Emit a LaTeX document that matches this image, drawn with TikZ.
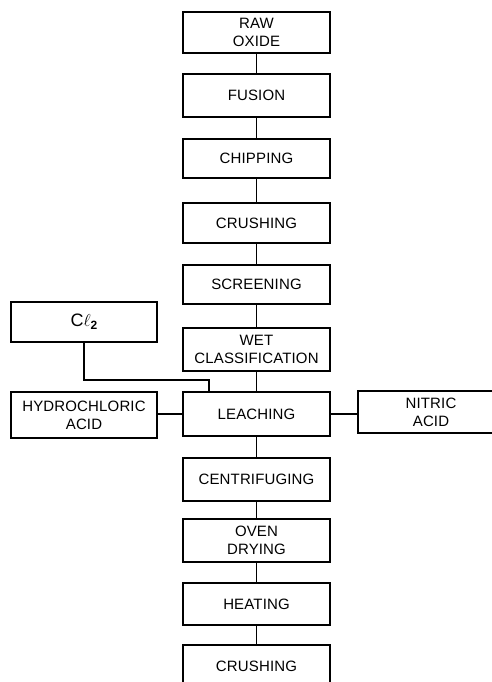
\documentclass[tikz,border=0pt]{standalone}
\usepackage{fontspec}
\setmainfont[LetterSpace=1]{Liberation Sans}
\begin{document}
\begin{tikzpicture}[x=1pt,y=-1pt,line width=1.2pt,
  box/.style={draw,rectangle,align=center,inner sep=0pt,minimum width=147pt,font=\fontsize{15}{18}\selectfont},
  side/.style={box,minimum width=146pt}]
\useasboundingbox (0,0) rectangle (492,682);
\clip (0,0) rectangle (492,682);
\node[box,minimum height=41pt] (raw) at (256.5,32.5) {RAW\\OXIDE};
\node[box,minimum height=43pt] (fus) at (256.5,95.5) {FUSION};
\node[box,minimum height=39pt] (chip) at (256.5,158.5) {CHIPPING};
\node[box,minimum height=40pt] (crush1) at (256.5,223) {CRUSHING};
\node[box,minimum height=39pt] (scr) at (256.5,284.5) {SCREENING};
\node[box,minimum height=43pt] (wet) at (256.5,349.5) {WET\\CLASSIFICATION};
\node[box,minimum height=44pt] (leach) at (256.5,414) {LEACHING};
\node[box,minimum height=43pt] (cent) at (256.5,479.5) {CENTRIFUGING};
\node[box,minimum height=43pt] (oven) at (256.5,540.5) {OVEN\\DRYING};
\node[box,minimum height=42pt] (heat) at (256.5,604) {HEATING};
\node[box,minimum height=42pt] (crush2) at (256.5,666) {CRUSHING};
\node[side,minimum height=40pt,font=\fontsize{18}{20}\selectfont] (cl) at (84,322) {C$\ell$\raisebox{-3pt}{\fontsize{12}{12}\selectfont\bfseries 2}};
\node[side,minimum height=46pt] (hcl) at (84,415) {HYDROCHLORIC\\ACID};
\node[side,minimum height=42pt] (nit) at (431,412) {NITRIC\\ACID};
\draw (raw) -- (fus);
\draw (fus) -- (chip);
\draw (chip) -- (crush1);
\draw (crush1) -- (scr);
\draw (scr) -- (wet);
\draw (wet) -- (leach);
\draw (leach) -- (cent);
\draw (cent) -- (oven);
\draw (oven) -- (heat);
\draw (heat) -- (crush2);
\coordinate (j) at (209,380);
\draw (cl.south) |- (j) -- (j |- leach.north);
\draw (hcl.east |- leach.west) -- (leach.west);
\draw (leach.east) -- (nit.west |- leach.east);
\end{tikzpicture}
\end{document}
